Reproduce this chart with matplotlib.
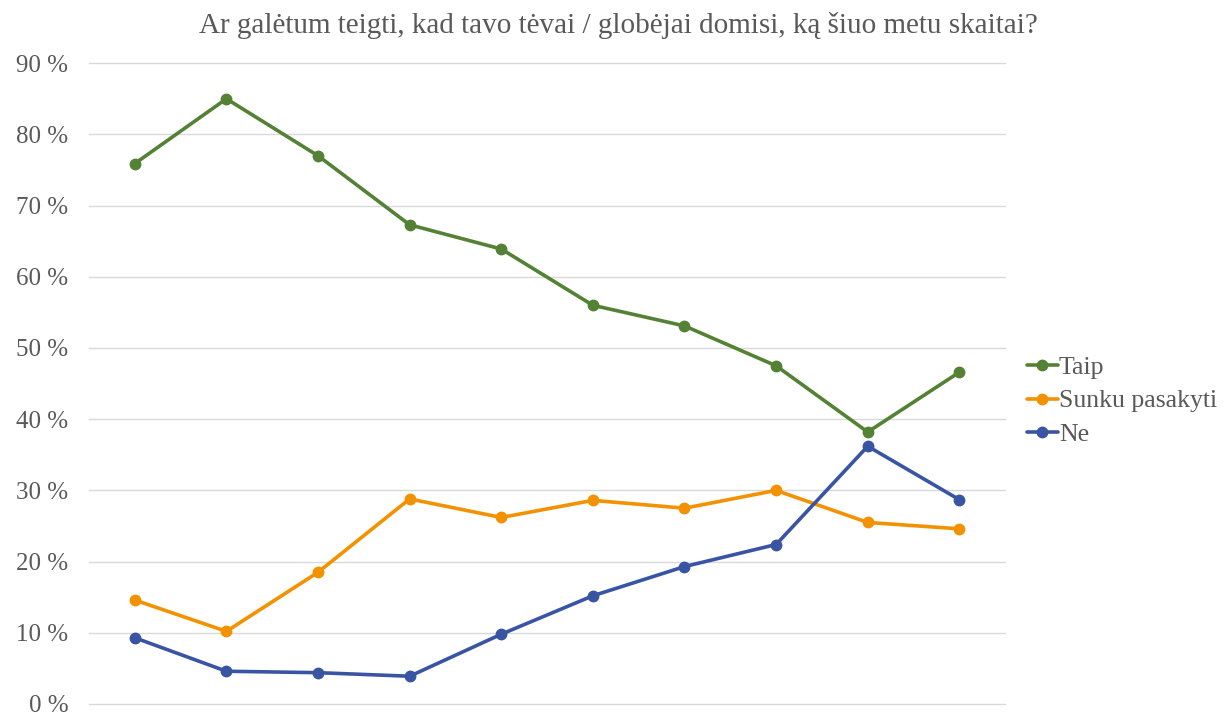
import numpy as np
import matplotlib.pyplot as plt

plt.rcParams['font.family'] = ['Liberation Serif', 'DejaVu Serif']

title = 'Ar galėtum teigti, kad tavo tėvai / globėjai domisi, ką šiuo metu skaitai?'
series_names = ['Taip', 'Sunku pasakyti', 'Ne']
taip = [75.9, 85.0, 77.0, 67.3, 63.9, 56.0, 53.1, 47.5, 38.2, 46.6]
sunku = [14.6, 10.2, 18.5, 28.8, 26.2, 28.6, 27.5, 30.0, 25.5, 24.6]
ne = [9.3, 4.6, 4.4, 3.9, 9.8, 15.2, 19.3, 22.4, 36.2, 28.7]
yticks = list(range(0, 91, 10))

colors = ['#548235', '#F39200', '#3A54A4']
text_col = '#595959'

fig = plt.figure(figsize=(12.24, 7.18), dpi=100)
ax = fig.add_axes([0.0727, 0.0195, 0.7485, 0.8925])

x = np.arange(len(taip))
for vals, name, c in zip([taip, sunku, ne], series_names, colors):
    ax.plot(x, vals, color=c, lw=2.6, marker='o', ms=7.5, label=name,
            solid_capstyle='round', solid_joinstyle='round')

ax.set_xlim(-0.5, len(taip) - 0.5)
ax.set_ylim(0, 90)
ax.set_yticks(yticks)
ax.set_yticklabels([f'{v} %' for v in yticks], fontsize=18, color=text_col)
ax.set_xticks([])
ax.tick_params(axis='y', length=0, pad=15)
ax.grid(axis='y', color='#d9d9d9', lw=1)
for gl in ax.get_ygridlines():
    gl.set_clip_on(False)
ax.set_axisbelow(True)
for s in ax.spines.values():
    s.set_visible(False)

fig.text(0.505, 0.965, title, ha='center', va='center', fontsize=21, color=text_col)

fig.legend(loc='center left', bbox_to_anchor=(0.839, 0.4415), frameon=False,
           fontsize=18.5, handlelength=1.2, handletextpad=0.05, labelspacing=0.4,
           labelcolor=text_col, borderaxespad=0, borderpad=0)

fig.savefig('out.png', dpi=100)
